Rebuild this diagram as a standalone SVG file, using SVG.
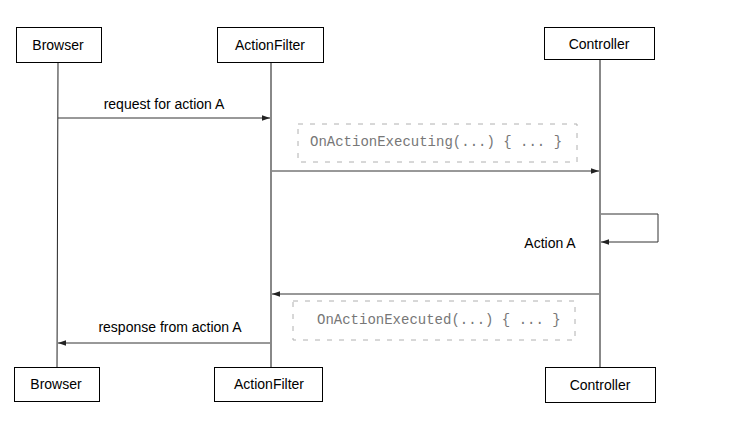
<svg xmlns="http://www.w3.org/2000/svg" width="747" height="426" viewBox="0 0 747 426">
<style>
.box{fill:#fff;stroke:#000;stroke-width:1}
.lbl{font-family:"Liberation Sans",Arial,sans-serif;font-size:14px;fill:#000;text-anchor:middle}
.code{font-family:"Liberation Mono","Courier New",monospace;font-size:14px;fill:#777;text-anchor:start}
.dash{fill:none;stroke:#b0b0b0;stroke-width:1;stroke-dasharray:5,7}
.life{stroke:#888;stroke-width:2;fill:none}
.msg{stroke:#333;stroke-width:1;fill:none;marker-end:url(#ah)}
</style>
<defs>
<marker id="ah" viewBox="0 0 10 10" refX="10" refY="5" markerWidth="8" markerHeight="8" markerUnits="userSpaceOnUse" orient="auto">
<path d="M0,1.5 L10,5 L0,8.5 z" fill="#222"/>
</marker>
</defs>
<rect width="747" height="426" fill="#fff"/>
<g id="lifelines">
<line x1="58" y1="62" x2="57" y2="368" stroke="#222" stroke-width="1"/>
<line class="life" x1="271" y1="62" x2="271" y2="367"/>
<line class="life" x1="600" y1="60" x2="600" y2="368"/>
</g>
<g id="connectors">
<line class="msg" x1="58" y1="118" x2="270" y2="118"/>
<line class="msg" x1="272" y1="171" x2="599" y2="171"/>
<polyline class="msg" points="601,214 658,214 658,242 601,242"/>
<line class="msg" x1="599" y1="294" x2="272" y2="294"/>
<line class="msg" x1="270" y1="343" x2="58" y2="343"/>
<text class="lbl" x="164" y="109">request for action A</text>
<text class="lbl" x="550" y="248">Action A</text>
<text class="lbl" x="170" y="332">response from action A</text>
</g>
<g id="note-executing">
<rect class="dash" x="298" y="124" width="279" height="38"/>
<text class="code" x="310" y="146">OnActionExecuting(...) { ... }</text>
</g>
<g id="note-executed">
<rect class="dash" x="293" y="301" width="282" height="39"/>
<text class="code" x="317" y="324">OnActionExecuted(...) { ... }</text>
</g>
<g id="browser-top"><rect class="box" x="16.5" y="27.5" width="85" height="35"/><text class="lbl" x="58" y="50">Browser</text></g>
<g id="actionfilter-top"><rect class="box" x="217.5" y="27.5" width="106" height="35"/><text class="lbl" x="270" y="50">ActionFilter</text></g>
<g id="controller-top"><rect class="box" x="544.5" y="27.5" width="110" height="32"/><text class="lbl" x="599" y="49">Controller</text></g>
<g id="browser-bottom"><rect class="box" x="14.5" y="367.5" width="85" height="34"/><text class="lbl" x="56" y="389">Browser</text></g>
<g id="actionfilter-bottom"><rect class="box" x="214.5" y="367.5" width="108" height="34"/><text class="lbl" x="269" y="389">ActionFilter</text></g>
<g id="controller-bottom"><rect class="box" x="545.5" y="367.5" width="110" height="35"/><text class="lbl" x="600" y="390">Controller</text></g>
</svg>
